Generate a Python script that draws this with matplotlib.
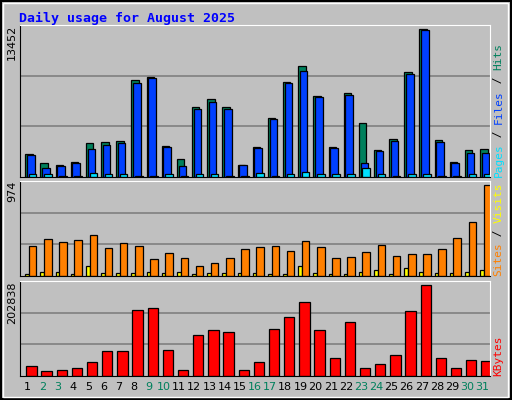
import numpy as np
import matplotlib.pyplot as plt
from matplotlib.patches import Rectangle

days = np.arange(1, 32)
weekend = {2, 3, 9, 10, 16, 17, 23, 24, 30, 31}

hits = [2063, 1245, 1063, 1336, 3063, 3154, 3245, 8790, 9063, 2790, 1609, 6336, 7063, 6336, 1063, 2727,
        5363, 8608, 10063, 7336, 2727, 7608, 4881, 2427, 3427, 9545, 13452, 3336, 1336, 2427, 2518]
files = [1972, 791, 973, 1245, 2518, 2881, 3063, 8517, 8972, 2700, 973, 6154, 6790, 6154, 1063, 2636,
         5272, 8517, 9608, 7245, 2636, 7427, 1245, 2336, 3245, 9335, 13335, 3154, 1245, 2154, 2154]
pages = [250, 250, 100, 100, 400, 250, 250, 100, 100, 250, 100, 250, 250, 100, 100, 350,
         100, 250, 450, 250, 250, 250, 800, 250, 100, 250, 250, 100, 100, 250, 250]
sites = [323, 398, 366, 387, 441, 302, 355, 323, 185, 249, 195, 110, 142, 195, 291, 313,
         323, 270, 377, 313, 195, 206, 259, 334, 217, 238, 238, 291, 409, 579, 974]
visits = [25, 46, 46, 25, 103, 35, 35, 35, 46, 35, 46, 25, 35, 35, 35, 35,
          25, 25, 103, 35, 25, 25, 46, 60, 25, 82, 46, 35, 35, 46, 60]
kbytes = [22940, 11840, 14060, 18500, 31820, 56240, 56240, 147260, 151700, 58460, 14060, 91760,
          102860, 98420, 14060, 31820, 105080, 131720, 165020, 102860, 40700, 120620, 18500,
          27380, 47360, 145040, 202838, 40700, 18500, 36260, 34040]

GREY = "#C0C0C0"
C_HITS, C_FILES, C_PAGES = "#00805C", "#0040FF", "#00E0FF"
C_VISITS, C_SITES, C_KB = "#FFFF00", "#FF8000", "#FF0000"

fig = plt.figure(figsize=(5.12, 4.0), dpi=100, facecolor=GREY)
fig.patches.append(Rectangle((0.002, 0.003), 0.996, 0.995, transform=fig.transFigure,
                             fill=False, edgecolor="black", lw=1.5))
fig.patches.append(Rectangle((0.006, 0.008), 0.986, 0.985, transform=fig.transFigure,
                             fill=False, edgecolor="white", lw=1))

mono = "DejaVu Sans Mono"
fig.text(0.037, 0.955, "Daily usage for August 2025", color="#0000FF", family=mono,
         weight="bold", fontsize=9.5, ha="left", va="center")


def panel(rect, maxval, ratio):
    ax = fig.add_axes(rect)
    ax.set_facecolor(GREY)
    ax.set_xlim(0.5, 31.5)
    ax.set_ylim(0, maxval * ratio)
    top = maxval * ratio
    for f in (1 / 3, 2 / 3):
        ax.axhline(top * f, color="#808080", lw=1.2, zorder=0)
    ax.set_xticks([])
    ax.set_yticks([])
    for s in ("left", "bottom"):
        ax.spines[s].set_color("black")
    for s in ("top", "right"):
        ax.spines[s].set_color("white")
    return ax


def bars(ax, left, width, vals, color):
    ax.bar(days - 0.5 + left, vals, width=width, align="edge", color=color,
           edgecolor="black", lw=0.9, zorder=2)


ax1 = panel([0.039, 0.5575, 0.918, 0.38], max(hits), 1.027)
bars(ax1, 0.35, 0.49, hits, C_HITS)
bars(ax1, 0.46, 0.50, files, C_FILES)
bars(ax1, 0.59, 0.50, pages, C_PAGES)

ax2 = panel([0.039, 0.31, 0.918, 0.2375], max(sites), 1.04)
bars(ax2, 0.35, 0.24, visits, C_VISITS)
bars(ax2, 0.59, 0.50, sites, C_SITES)

ax3 = panel([0.039, 0.06, 0.918, 0.2375], max(kbytes), 1.04)
bars(ax3, 0.42, 0.68, kbytes, C_KB)

for d in days:
    ax3.text(d, -0.06, str(d), transform=ax3.get_xaxis_transform(), ha="center", va="top",
             fontsize=8, color=C_HITS if d in weekend else "black")

# max value labels on the left
for ax, v in ((ax1, max(hits)), (ax2, max(sites)), (ax3, max(kbytes))):
    ax.text(-0.017, 1.0, str(v), transform=ax.transAxes, rotation=90, ha="center",
            va="top", fontsize=8)


def side_label(ax, parts):
    y = 0.0
    for txt, col in parts:
        t = ax.text(1.018, y, txt, transform=ax.transAxes, rotation=90, ha="center",
                    va="bottom", fontsize=8, color=col, family=mono)
        y += len(txt) * 0.6 * 8 / 72 * 100 / (ax.get_position().height * 400)


side_label(ax1, [("Pages", C_PAGES), (" / ", "black"), ("Files", C_FILES),
                 (" / ", "black"), ("Hits", C_HITS)])
side_label(ax2, [("Sites", C_SITES), (" / ", "black"), ("Visits", C_VISITS)])
side_label(ax3, [("KBytes", C_KB)])

fig.savefig("out.png", dpi=100, facecolor=GREY)
